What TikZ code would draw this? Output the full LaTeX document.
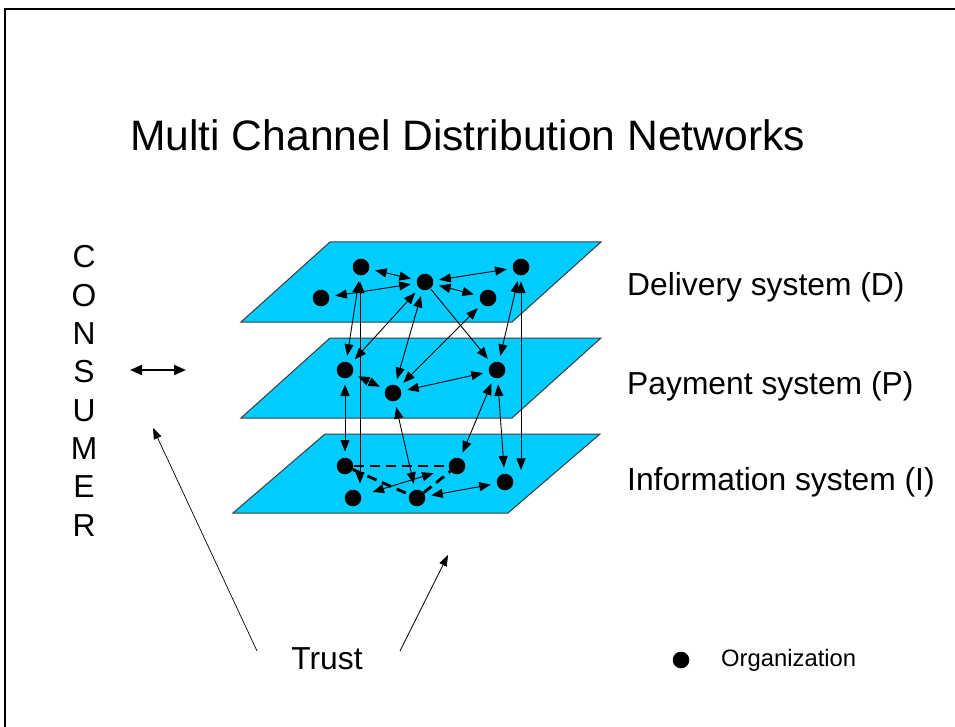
\documentclass[tikz,border=0pt]{standalone}
\usepackage{fontspec}
\setmainfont{Liberation Sans}
\usetikzlibrary{arrows.meta}
\definecolor{planecyan}{RGB}{0,204,255}
\definecolor{planeedge}{RGB}{60,60,60}
\begin{document}
\begin{tikzpicture}[x=1pt,y=-1pt,
  plane/.style={fill=planecyan,draw=planeedge,line width=1pt},
  org/.style={circle,fill=black,inner sep=0pt,minimum size=16.6pt},
  link/.style={line width=0.9pt,{Triangle[length=11.5pt,width=9pt]}-{Triangle[length=11.5pt,width=9pt]},shorten <=6pt,shorten >=6pt},
  onelink/.style={line width=0.9pt,-{Triangle[length=11.5pt,width=9pt]},shorten <=1pt,shorten >=6pt},
  dashlink/.style={line width=2.8pt,dash pattern=on 10pt off 6pt},
  trustarrow/.style={line width=0.7pt,-{Triangle[length=11pt,width=8pt]}},
  big/.style={font=\fontsize{31.8}{36}\selectfont},
]
\useasboundingbox (0,0) rectangle (955,727);
% frame
\draw[line width=2pt] (5,727) -- (5,9) -- (955,9);
% title
\node[anchor=base west,inner sep=0pt,font=\fontsize{42.6}{50}\selectfont] (title) at (130,151) {Multi Channel Distribution Networks};
% planes
\path[plane] (330,242) -- (601,242) -- (512,322) -- (241,322) -- cycle;
\path[plane] (330,338) -- (601,338) -- (512,418) -- (241,418) -- cycle;
\path[plane] (325,434) -- (600,434) -- (508,513) -- (233,513) -- cycle;
% organizations
\node[org] (D1) at (361,267) {};
\node[org] (D2) at (425,282) {};
\node[org] (D3) at (521,267) {};
\node[org] (D4) at (321,298) {};
\node[org] (D5) at (488,298) {};
\node[org] (P1) at (345,370) {};
\node[org] (P2) at (393,393) {};
\node[org] (P3) at (497,370) {};
\node[org] (I1) at (345,466) {};
\node[org] (I2) at (457,466) {};
\node[org] (I3) at (353,498) {};
\node[org] (I4) at (417,498) {};
\node[org] (I5) at (505,482) {};
% delivery layer
\draw[link] (D1) -- (D2);
\draw[link] (D2) -- (D3);
\draw[link] (D4) -- (D2);
\draw[link] (D2) -- (D5);
% delivery to payment / information
\draw[link] (D1) -- (P1);
\draw[link] (D1.south) ++(-1,0) coordinate (d1s) (d1s) -- (I3.north -| d1s) coordinate (i3n);
\draw[link] (D2) -- (P1);
\draw[link] (D2) -- (P2);
\draw[onelink] (D2) -- (P3);
\draw[link] (P2) -- (D5);
\draw[link] (D3) -- (P3);
\draw[link] (D3.south) -- (D3.south |- I5.north east);
% payment layer
\draw[link] (P1) -- (P2);
\draw[link] (P2) -- (P3);
% payment to information
\draw[link] (P1) -- (I1);
\draw[link] (P2) -- (I4);
\draw[link] (P3) -- (I2);
\draw[link] (P3) -- (I5);
% information layer
\draw[dashlink] (I1) -- (I2);
\draw[dashlink] (I1) -- (I4);
\draw[dashlink] (I4) -- (I2);
\draw[link,shorten <=12pt,shorten >=16pt] (I3) -- (I2);
\draw[link] (I4) -- (I5);
% layer labels
\node[big,anchor=base west,inner sep=0pt] (labD) at (627,295.5) {Delivery system (D)};
\node[big,anchor=base west,inner sep=0pt] (labP) at (627,394.5) {Payment system (P)};
\node[big,anchor=base west,inner sep=0pt] (labI) at (627,490.5) {Information system (I)};
% consumer
\foreach \ch [count=\i from 0] in {C,O,N,S,U,M,E,R}
  \node[big,anchor=base,inner sep=0pt] (cons\i) at (84,268+38.3*\i) {\ch};
\coordinate (ca) at (130,370);
\coordinate (cb) at (186,370);
\draw[line width=2pt,{Triangle[length=12pt,width=10pt]}-{Triangle[length=12pt,width=10pt]}] (ca) -- (cb);
% trust
\node[big,anchor=base,inner sep=0pt] (trust) at (327,669.5) {Trust};
\coordinate (t1) at (257,651);
\coordinate (t1e) at (153,428);
\coordinate (t2) at (400,651);
\coordinate (t2e) at (448,555);
\draw[trustarrow] (t1) -- (t1e);
\draw[trustarrow] (t2) -- (t2e);
% legend
\node[org] (leg) at (681,660) {};
\node[anchor=base west,inner sep=0pt,font=\fontsize{23.8}{28}\selectfont] (legtext) at (721,666.5) {Organization};
\end{tikzpicture}
\end{document}
